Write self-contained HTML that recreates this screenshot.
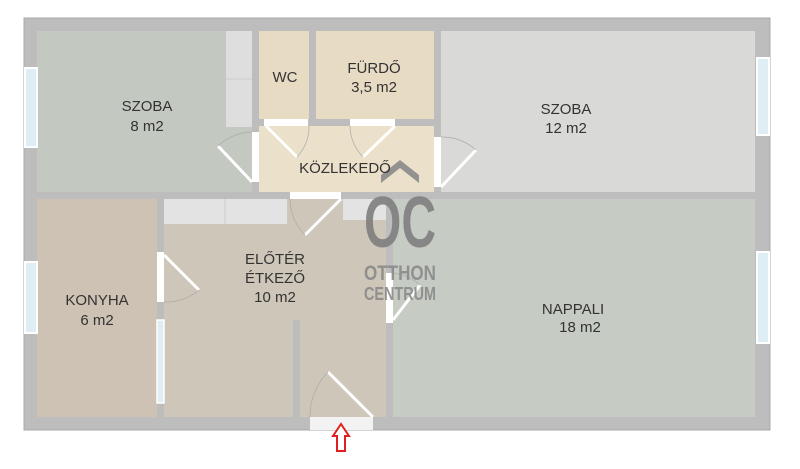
<!DOCTYPE html>
<html><head><meta charset="utf-8"><style>
html,body{margin:0;padding:0;background:#fff;}
svg text{font-family:"Liberation Sans",sans-serif;fill:#333;}
</style></head><body>
<svg width="800" height="464" viewBox="0 0 800 464" xmlns="http://www.w3.org/2000/svg">
<rect x="24" y="18" width="746" height="412" fill="#bdbdbd" stroke="#a9a9a9"/>
<rect x="37" y="31" width="215" height="161" fill="#c3c9c0"/>
<rect x="226" y="31" width="26" height="96" fill="#dedede"/>
<line x1="226" y1="79" x2="252" y2="79" stroke="#ccc" />
<rect x="259" y="31" width="50" height="88" fill="#e7dbc4"/>
<rect x="316" y="31" width="118" height="88" fill="#e7dbc4"/>
<rect x="259" y="126" width="175" height="66" fill="#ebe0c9"/>
<rect x="441" y="31" width="314" height="161" fill="#d9d9d8"/>
<rect x="37" y="199" width="120" height="218" fill="#cdc2b4"/>
<rect x="164" y="199" width="222" height="218" fill="#cec6b8"/>
<rect x="164" y="199" width="123" height="25" fill="#e3e3e3"/>
<line x1="225" y1="199" x2="225" y2="224" stroke="#ccc"/>
<rect x="343" y="199" width="43" height="21" fill="#e3e3e3"/>
<rect x="393" y="199" width="362" height="218" fill="#c6cbc3"/>
<rect x="293" y="320" width="7" height="97" fill="#bdbdbd"/>
<rect x="25" y="68" width="12" height="79" fill="#dfeef5" stroke="#fff" stroke-width="2"/>
<rect x="25" y="262" width="12" height="71" fill="#dfeef5" stroke="#fff" stroke-width="2"/>
<rect x="757" y="58" width="12" height="77" fill="#dfeef5" stroke="#fff" stroke-width="2"/>
<rect x="757" y="252" width="12" height="91" fill="#dfeef5" stroke="#fff" stroke-width="2"/>
<rect x="157" y="320" width="7" height="83" fill="#dfeef5" stroke="#fff" stroke-width="1.5"/>
<g fill="#fff">
<rect x="252" y="132" width="7" height="50"/>
<rect x="264" y="119" width="44" height="7"/>
<rect x="350" y="119" width="45" height="7"/>
<rect x="434" y="137" width="7" height="50"/>
<rect x="290" y="192" width="51" height="7"/>
<rect x="157" y="252" width="7" height="50"/>
<rect x="386" y="273" width="7" height="50"/>
<rect x="310" y="417" width="63" height="13" fill="#f2f2f2"/>
</g>
<g stroke="#fff" stroke-width="3" fill="none">
<line x1="252" y1="182" x2="218" y2="146"/>
<line x1="266" y1="126" x2="297" y2="157"/>
<line x1="395" y1="126" x2="363" y2="157"/>
<line x1="441" y1="187" x2="476" y2="150"/>
<line x1="341" y1="199" x2="305" y2="235"/>
<line x1="164" y1="255" x2="199" y2="290"/>
<line x1="393" y1="320" x2="420" y2="285"/>
<line x1="373" y1="417" x2="328" y2="372"/>
</g>
<g stroke="#aaa" stroke-width="0.7" fill="none">
<path d="M218 146 A50 50 0 0 1 252 132"/>
<path d="M297 157 A44 44 0 0 0 309 126"/>
<path d="M363 157 A45 45 0 0 1 350 126"/>
<path d="M476 150 A50 50 0 0 0 441 137"/>
<path d="M305 235 A51 51 0 0 1 290 199"/>
<path d="M199 290 A50 50 0 0 1 164 302"/>
<path d="M420 285 A50 50 0 0 0 393 273"/>
<path d="M328 372 A63 63 0 0 0 310 417"/>
</g>
<g opacity="0.9">
<path d="M381 183 L400 168 L419 183 L419 175 L400 160 L381 175Z" fill="#8a8a8a"/>
<text x="400" y="247" text-anchor="middle" font-size="72" font-weight="bold" style="fill:#7f7f7f" textLength="72" lengthAdjust="spacingAndGlyphs">OC</text>
<text x="400" y="280" text-anchor="middle" font-size="21" font-weight="bold" style="fill:#8a8a8a" textLength="72" lengthAdjust="spacingAndGlyphs">OTTHON</text>
<text x="400" y="300" text-anchor="middle" font-size="18" font-weight="bold" style="fill:#8a8a8a" textLength="72" lengthAdjust="spacingAndGlyphs">CENTRUM</text>
</g>
<g font-size="15" text-anchor="middle">
<text x="147" y="111">SZOBA</text><text x="147" y="131">8 m2</text>
<text x="285" y="82">WC</text>
<text x="374" y="73">FÜRDŐ</text><text x="374" y="92">3,5 m2</text>
<text x="345" y="173">KÖZLEKEDŐ</text>
<text x="566" y="114">SZOBA</text><text x="566" y="133">12 m2</text>
<text x="97" y="305">KONYHA</text><text x="97" y="325">6  m2</text>
<text x="275" y="264">ELŐTÉR</text><text x="275" y="283">ÉTKEZŐ</text><text x="275" y="302">10 m2</text>
<text x="573" y="314">NAPPALI</text><text x="580" y="332">18 m2</text>
</g>
<path d="M341 424 L333 436 L337 436 L337 451 L345 451 L345 436 L349 436 Z" fill="#fff" stroke="#e02020" stroke-width="2"/>
</svg>
</body></html>
